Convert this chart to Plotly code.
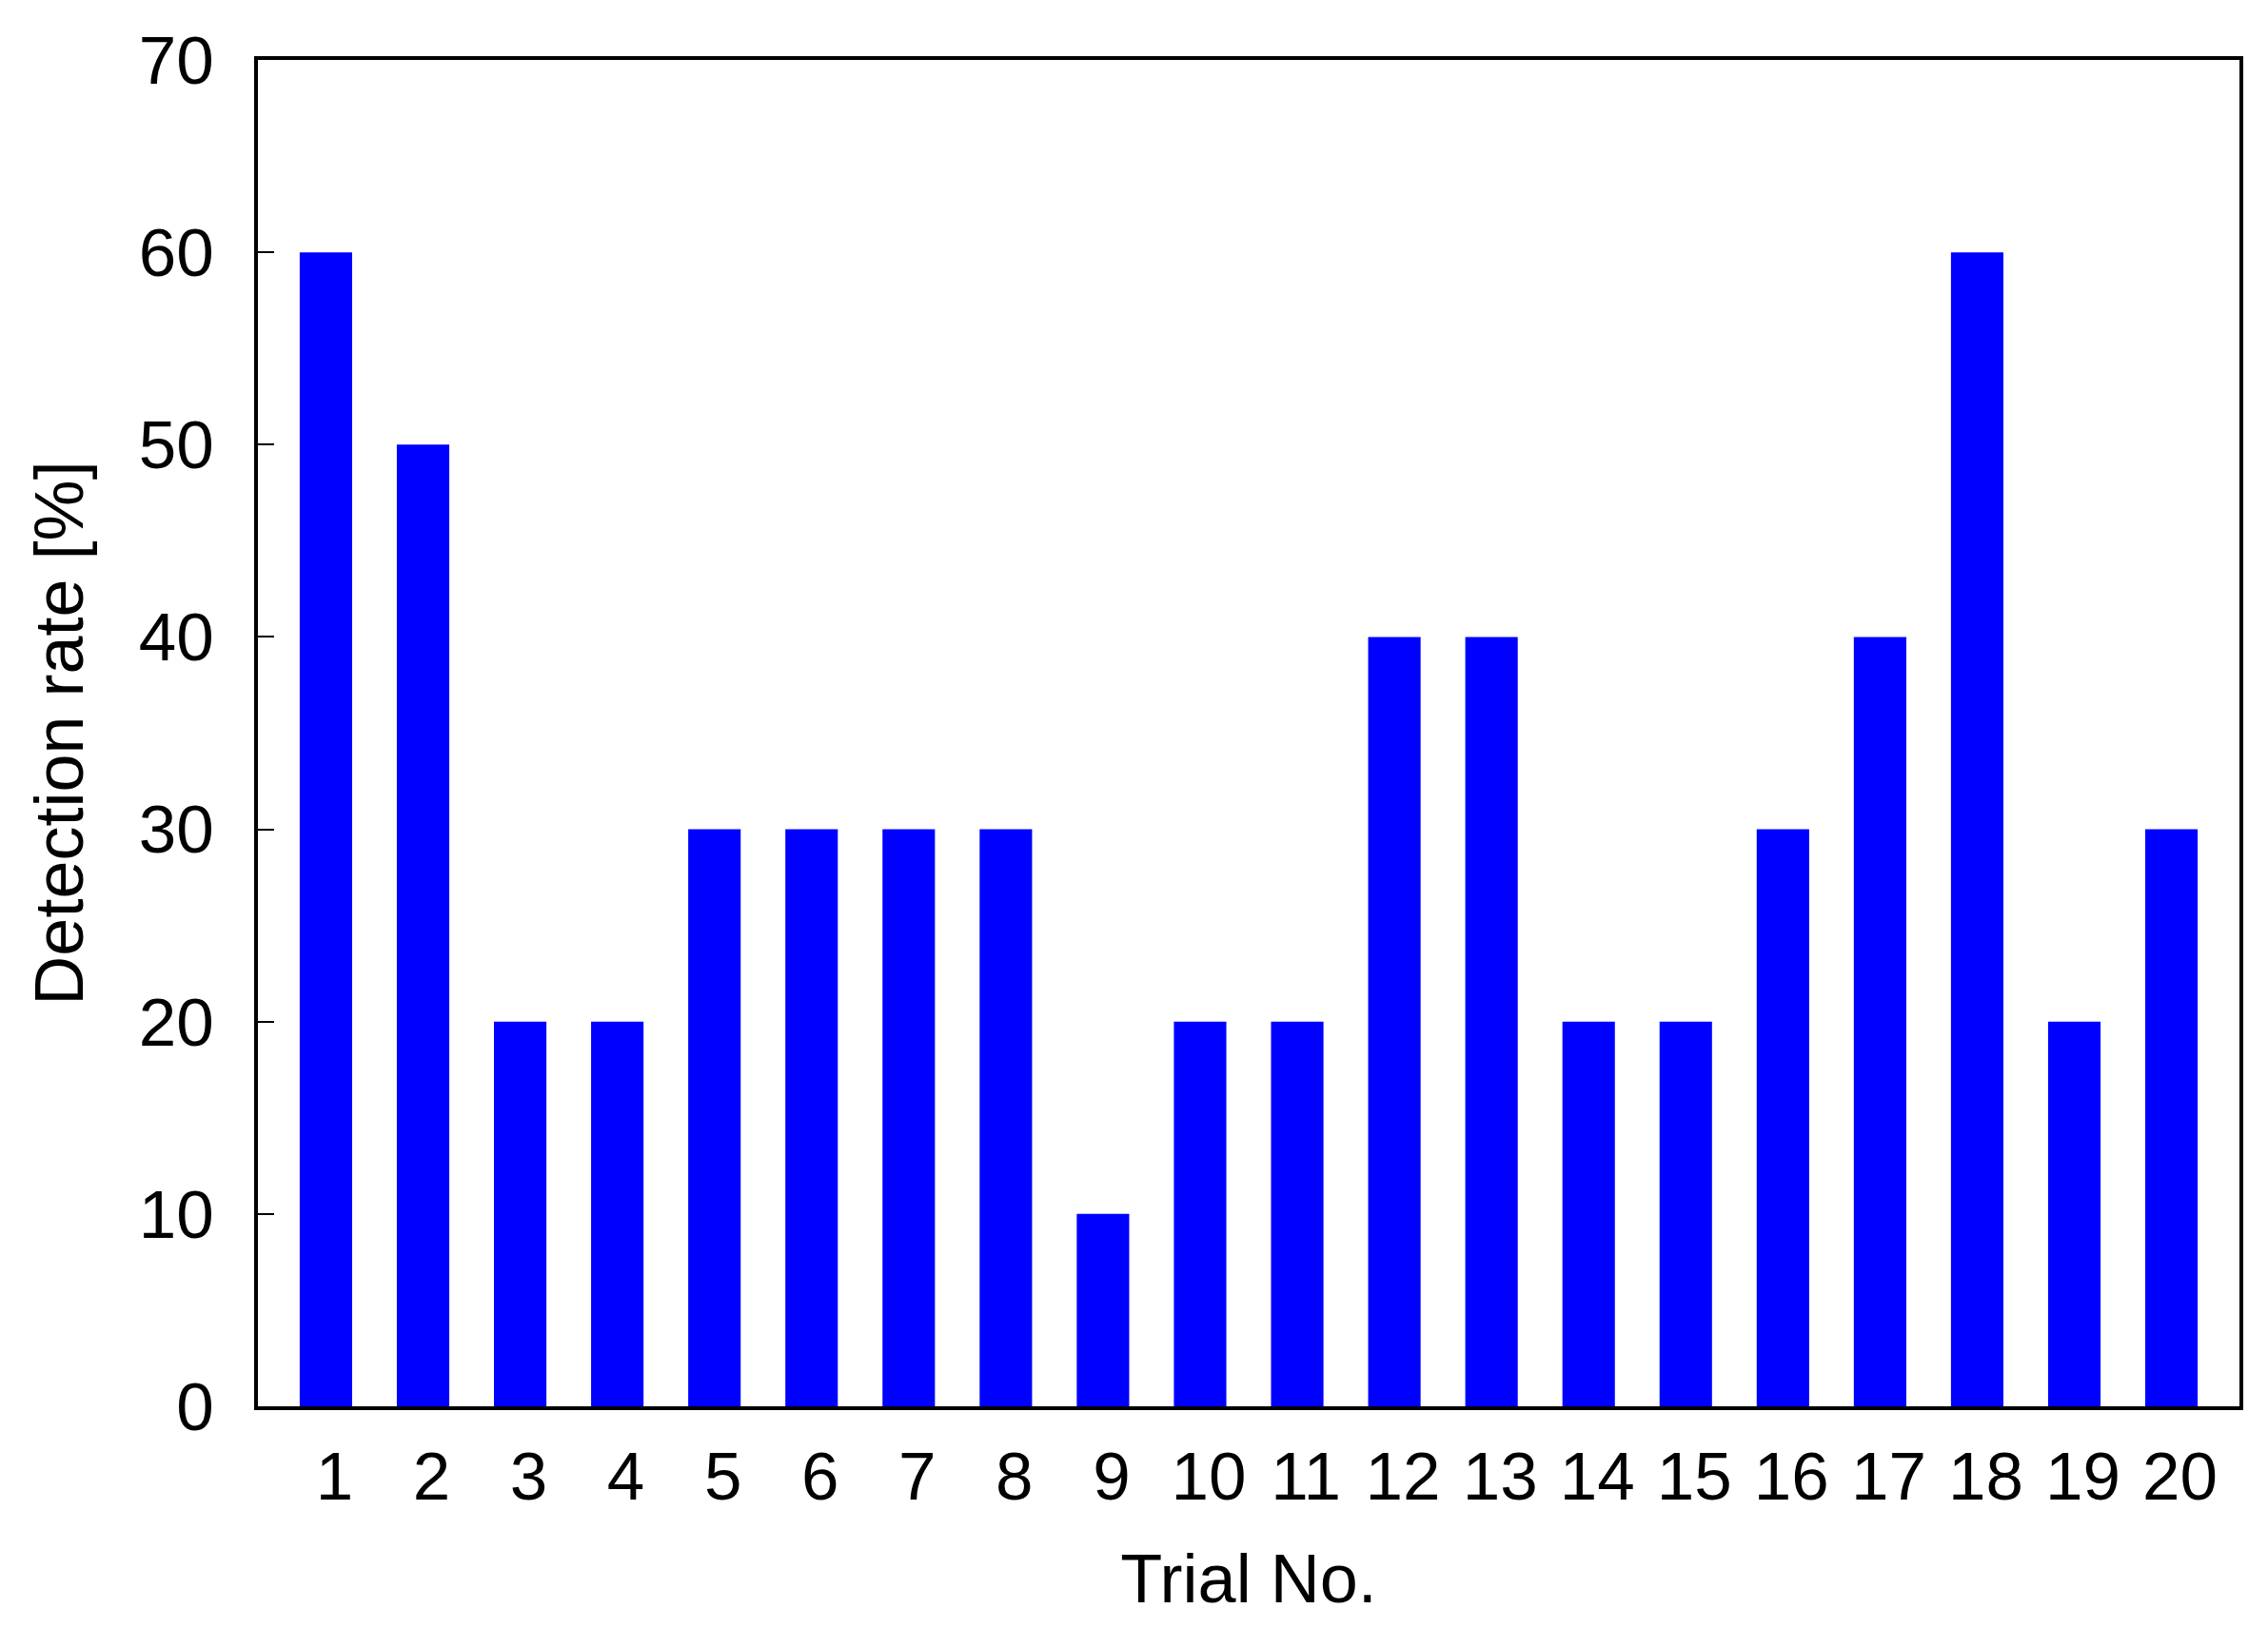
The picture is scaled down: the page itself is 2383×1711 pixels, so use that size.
import plotly.graph_objects as go

trials = list(range(1, 21))
tick_labels = [str(t) for t in trials]
detection_rate = [60, 50, 20, 20, 30, 30, 30, 30, 10, 20, 20, 40, 40, 20, 20, 30, 40, 60, 20, 30]

FONT = "Liberation Sans, Arial, Helvetica, sans-serif"

fig = go.Figure(go.Bar(
    x=trials, y=detection_rate, width=0.54,
    marker=dict(color="#0000FF", line=dict(width=0)),
))

fig.update_layout(
    width=2383, height=1711,
    margin=dict(l=271, r=30, t=63, b=233, pad=0),
    paper_bgcolor="white", plot_bgcolor="white",
    font=dict(family=FONT, size=71, color="black"),
    showlegend=False,
)

fig.update_xaxes(
    range=[0.3, 20.7], tickmode="array", tickvals=trials, ticktext=tick_labels,
    showgrid=False, zeroline=False,
    showline=True, linecolor="black", linewidth=4, mirror=True,
    ticks="", ticklabelstandoff=9, ticklabelshift=9,
    tickfont=dict(family=FONT, size=71, color="black"),
    title=dict(text="Trial No.", font=dict(family=FONT, size=72, color="black"), standoff=44),
)

fig.update_yaxes(
    range=[0, 70], tickmode="linear", tick0=0, dtick=10,
    showgrid=False, zeroline=False,
    showline=True, linecolor="black", linewidth=4, mirror=True,
    ticks="inside", ticklen=17, tickwidth=1.5, tickcolor="black",
    ticklabelstandoff=28,
    tickfont=dict(family=FONT, size=71, color="black"),
    title=dict(text="Detection rate [%]", font=dict(family=FONT, size=72, color="black"), standoff=36),
)

fig.write_html(
    "out.html",
    config={"displayModeBar": False},
    post_script="document.body.style.margin='0';document.body.style.overflow='hidden';",
)
